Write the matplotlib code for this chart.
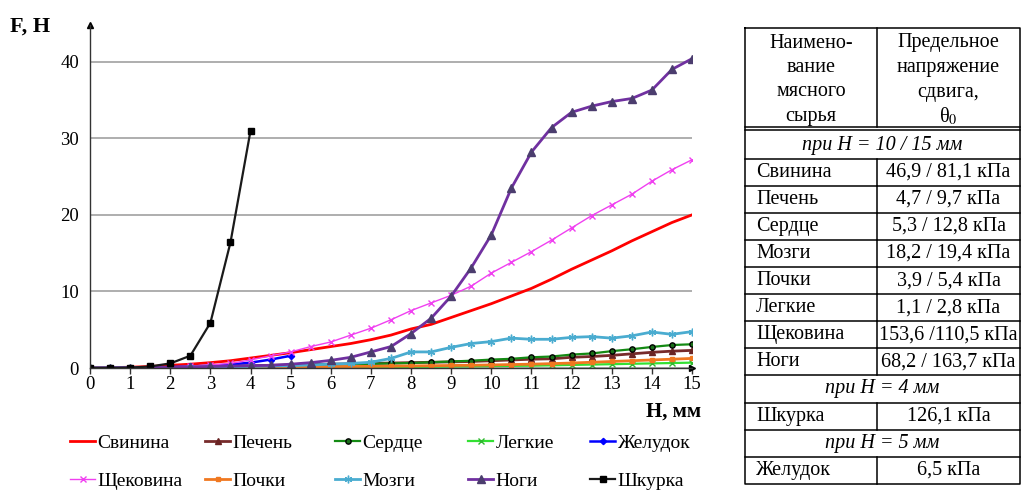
import numpy as np
import matplotlib
matplotlib.use('Agg')
import matplotlib.pyplot as plt

plt.rcParams['font.family'] = ['Liberation Serif', 'DejaVu Serif']
plt.rcParams['mathtext.fontset'] = 'stix'

# Данные: смещение H, мм (шаг 0,5) и усилие F, Н
h_mm = np.arange(0, 15.5, 0.5)
h_shkurka = h_mm[:9]
h_zheludok = h_mm[:11]

svinina = [0, 0.05, 0.1, 0.2, 0.35, 0.5, 0.7, 0.95, 1.3, 1.65, 2.0, 2.4, 2.8, 3.2, 3.7, 4.3,
           5.1, 5.7, 6.6, 7.5, 8.4, 9.4, 10.4, 11.6, 12.9, 14.1, 15.3, 16.6, 17.8, 19.0, 20.0]
pechen = [0, 0.02, 0.05, 0.08, 0.1, 0.15, 0.2, 0.25, 0.3, 0.35, 0.4, 0.45, 0.5, 0.55, 0.6, 0.65,
          0.7, 0.75, 0.8, 0.85, 0.95, 1.05, 1.15, 1.2, 1.4, 1.5, 1.65, 1.85, 2.05, 2.2, 2.3]
serdce = [0, 0.02, 0.05, 0.08, 0.1, 0.13, 0.16, 0.2, 0.25, 0.3, 0.35, 0.4, 0.45, 0.5, 0.55, 0.6,
          0.65, 0.75, 0.85, 0.95, 1.1, 1.2, 1.4, 1.5, 1.75, 1.9, 2.2, 2.45, 2.75, 3.0, 3.1]
legkie = [0, 0, 0.01, 0.02, 0.03, 0.04, 0.05, 0.06, 0.07, 0.08, 0.09, 0.1, 0.1, 0.11, 0.12, 0.13,
          0.15, 0.17, 0.2, 0.22, 0.25, 0.28, 0.3, 0.35, 0.4, 0.45, 0.5, 0.55, 0.6, 0.65, 0.7]
zheludok = [0, 0.01, 0.03, 0.05, 0.1, 0.2, 0.3, 0.45, 0.7, 1.1, 1.6]
shchekovina = [0, 0.02, 0.05, 0.1, 0.15, 0.25, 0.4, 0.6, 1.05, 1.6, 2.1, 2.8, 3.4, 4.3, 5.2, 6.3,
               7.5, 8.5, 9.5, 10.7, 12.4, 13.8, 15.2, 16.7, 18.3, 19.9, 21.3, 22.7, 24.4, 25.9, 27.2]
pochki = [0, 0, 0.01, 0.02, 0.03, 0.05, 0.07, 0.09, 0.1, 0.12, 0.14, 0.16, 0.18, 0.2, 0.22, 0.24,
          0.27, 0.3, 0.33, 0.36, 0.4, 0.45, 0.5, 0.57, 0.65, 0.75, 0.85, 0.95, 1.05, 1.15, 1.25]
mozgi = [0, 0.01, 0.03, 0.05, 0.08, 0.1, 0.13, 0.16, 0.2, 0.25, 0.3, 0.4, 0.5, 0.6, 0.75, 1.25,
         2.1, 2.1, 2.7, 3.2, 3.45, 3.9, 3.75, 3.75, 4.0, 4.1, 3.9, 4.2, 4.7, 4.4, 4.75]
nogi = [0, 0.02, 0.05, 0.08, 0.1, 0.15, 0.2, 0.25, 0.3, 0.35, 0.5, 0.7, 1.0, 1.4, 2.1, 2.8,
        4.5, 6.5, 9.4, 13.1, 17.4, 23.5, 28.2, 31.4, 33.4, 34.2, 34.8, 35.2, 36.3, 39.0, 40.4]
shkurka = [0, 0, 0.05, 0.2, 0.6, 1.6, 5.9, 16.4, 31.0]

# Таблица
tab_names = ['Свинина', 'Печень', 'Сердце', 'Мозги', 'Почки', 'Легкие', 'Щековина', 'Ноги']
tab_values = ['46,9 / 81,1 кПа', '4,7 / 9,7 кПа', '5,3 / 12,8 кПа', '18,2 / 19,4 кПа',
              '3,9 / 5,4 кПа', '1,1 / 2,8 кПа', '153,6 /110,5 кПа', '68,2 / 163,7 кПа']

W, H = 1027, 490
fig = plt.figure(figsize=(W / 100, H / 100), dpi=100)
ax = fig.add_axes([90 / W, 1 - 368 / H, 602 / W, 343 / H])

# стиль серий: (x, y, подпись, цвет, маркер, толщина, размер маркера, цвет маркера)
series = [
    (h_mm, svinina, 'Свинина', '#ff0000', None, 2.0, 0, None),
    (h_mm, pechen, 'Печень', '#772b2b', '^', 2.0, 4.5, '#6a2424'),
    (h_mm, serdce, 'Сердце', '#148a14', 'o', 1.6, 3.8, '#1a6e1a'),
    (h_mm, legkie, 'Легкие', '#33e033', 'x', 1.6, 4.5, '#2fb82f'),
    (h_zheludok, zheludok, 'Желудок', '#0000ff', 'D', 1.8, 3.2, '#0000ff'),
    (h_mm, shchekovina, 'Щековина', '#f040f0', 'x', 1.0, 4.5, '#f040f0'),
    (h_mm, pochki, 'Почки', '#f07820', 's', 2.0, 3.2, '#f07820'),
    (h_mm, mozgi, 'Мозги', '#4aacd0', (6, 2, 0), 2.0, 5.5, '#4aacd0'),
    (h_mm, nogi, 'Ноги', '#7030a0', '^', 2.0, 5.2, '#4b3d6e'),
    (h_shkurka, shkurka, 'Шкурка', '#1a1a1a', 's', 1.6, 4.6, '#000000'),
]

handles = {}
for xs, ys, name, col, mk, lw, ms, mcol in series:
    ln, = ax.plot(xs, ys, color=col, lw=lw, marker=mk, markersize=ms,
                  markerfacecolor=mcol, markeredgecolor='black' if name == 'Сердце' else mcol,
                  markeredgewidth=1.0, label=name)
    handles[name] = ln

ax.set_xlim(0, 15)
ax.set_ylim(0, 44.8)
ax.set_xticks(range(16))
ax.set_yticks([0, 10, 20, 30, 40])
ax.grid(axis='y', color='#a8a8a8', lw=1.3)
ax.set_axisbelow(True)
for s in ['top', 'right']:
    ax.spines[s].set_visible(False)
for s in ['left', 'bottom']:
    ax.spines[s].set_color('#333333')
    ax.spines[s].set_linewidth(1.0)
ax.tick_params(axis='x', length=4, width=1, color='#333333', labelsize=13.5, pad=2)
ax.tick_params(axis='y', length=0, labelsize=13.5, pad=8)
# стрелки на осях
ax.plot(0, 1, marker='^', markersize=5, color='black', transform=ax.transAxes, clip_on=False)
ax.plot(1, 0, marker='>', markersize=5, color='black', transform=ax.transAxes, clip_on=False)

fig.text(10 / W, 1 - 27 / H, 'F, Н', fontsize=16, fontweight='bold', va='center', ha='left')
fig.text(701 / W, 1 - 412 / H, 'Н, мм', fontsize=15, fontweight='bold', va='center', ha='right')

# легенда: 5 столбцов по 2 записи, столбцы равной ширины
leg_cols = [['Свинина', 'Щековина'], ['Печень', 'Почки'], ['Сердце', 'Мозги'],
            ['Легкие', 'Ноги'], ['Желудок', 'Шкурка']]
leg_x = [70, 205, 335, 468, 590]
for names, lx in zip(leg_cols, leg_x):
    fig.legend([handles[n] for n in names], names, ncol=1, frameon=False,
               loc='upper left', bbox_to_anchor=(lx / W, 1 - 434 / H),
               bbox_transform=fig.transFigure, fontsize=14, handlelength=1.3,
               handletextpad=0.12, labelspacing=1.07, borderpad=0, borderaxespad=0)

# таблица справа
tax = fig.add_axes([0, 0, 1, 1], facecolor='none')
tax.set_xlim(0, W)
tax.set_ylim(H, 0)
tax.axis('off')

x_l, x_m, x_r = 745, 877, 1020
y_top = 28
row_h = 27.1
y0 = 131.5
y_bottom = y0 + 13 * row_h
lw_t = 1.1
fs_t = 14.5

tax.plot([x_l, x_r, x_r, x_l, x_l], [y_top, y_top, y_bottom, y_bottom, y_top], color='black', lw=lw_t)
tax.plot([x_l, x_r], [127.5, 127.5], color='black', lw=lw_t)
tax.plot([x_l, x_r], [130.5, 130.5], color='black', lw=lw_t)
tax.plot([x_m, x_m], [y_top, 127.5], color='black', lw=lw_t)

hdr1 = ['Наимено-', 'вание', 'мясного', 'сырья']
hdr2 = ['Предельное', 'напряжение', 'сдвига,', 'θ$_0$']
for i, (a, b) in enumerate(zip(hdr1, hdr2)):
    yy = 43 + i * 24.5
    tax.text((x_l + x_m) / 2, yy, a, ha='center', va='center', fontsize=fs_t)
    tax.text((x_m + x_r) / 2, yy, b, ha='center', va='center', fontsize=fs_t)

rows = [('span', 'при Н = 10 / 15 мм')]
rows += [(n, v) for n, v in zip(tab_names, tab_values)]
rows += [('span', 'при Н = 4 мм'), ('Шкурка', '126,1 кПа'),
         ('span', 'при Н = 5 мм'), ('Желудок', '6,5 кПа')]

for k, (a, b) in enumerate(rows):
    ya = y0 + k * row_h
    yb = ya + row_h
    yc = (ya + yb) / 2
    if k > 0:
        tax.plot([x_l, x_r], [ya, ya], color='black', lw=lw_t)
    if a == 'span':
        tax.text((x_l + x_r) / 2, yc, b, ha='center', va='center', fontsize=fs_t, style='italic')
    else:
        tax.plot([x_m, x_m], [ya, yb], color='black', lw=lw_t)
        tax.text(x_l + 11, yc, a, ha='left', va='center', fontsize=fs_t)
        tax.text((x_m + x_r) / 2, yc, b, ha='center', va='center', fontsize=fs_t)

fig.savefig('out.png', dpi=100)
